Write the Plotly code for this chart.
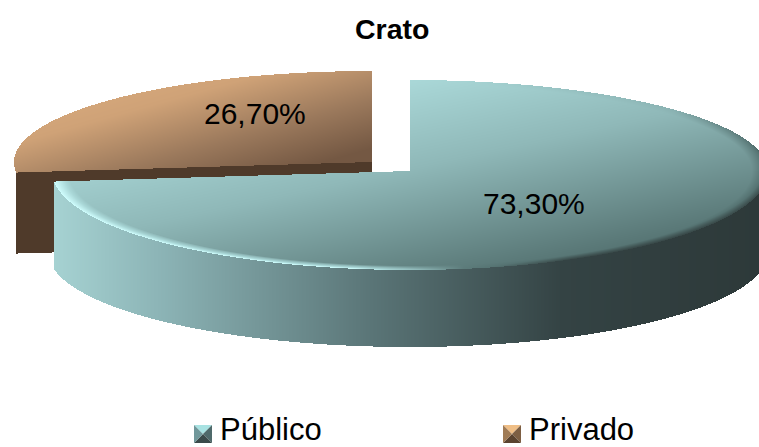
import numpy as np
import plotly.graph_objects as go

title = "Crato"
categories = ["Público", "Privado"]
values = [73.30, 26.70]
labels = ["73,30%", "26,70%"]

W, H = 759, 447
xs = np.arange(W) + 0.5
ys = np.arange(H) + 0.5
X, Y = np.meshgrid(xs, ys)
end_angle = values[0] / sum(values) * 2 * np.pi


def wedge(cx, cy, rx, ry_top, ry_bot, a0, a1):
    u = (X - cx) / rx
    v = np.where(Y < cy, (Y - cy) / ry_top, (Y - cy) / ry_bot)
    r = np.hypot(u, v)
    ang = np.mod(np.arctan2(u, -v), 2 * np.pi)
    return u, v, r, (r <= 1) & (ang >= a0) & (ang <= a1)


# Privado: top face
u, v, r, m = wedge(372, 162, 358, 91, 99, end_angle, 2 * np.pi)
t = np.clip((X - 15) / 357 * 0.62 + (Y - 71) / 100 * 0.62 - 0.1, 0, 1)
z_pri = np.where(m, t, np.nan)

# Privado: cut face (only the part that is seen above/left of Público)
a = end_angle
ex = 372 + 358 * np.sin(a)
ey = 162 - 99 * np.cos(a)
edge_y = 162 + (X - 372) / (ex - 372) * (ey - 162)
m_cut = (X >= ex) & (X <= 372) & (Y >= edge_y) & (Y <= edge_y + 81)
z_cut = np.where(m_cut, 0.5, np.nan)

# Público: outer side
cx, cy = 410, 171
rx_b = np.where(X < cx, 362.0, 358.0)
ub = (X - cx) / rx_b
s = np.sqrt(np.clip(1 - ub ** 2, 0, 1))
bottom = 252 + 95 * s
ex2 = cx + 358 * np.sin(a)
ey2 = cy - 99 * np.cos(a)
side_top = np.where(X < cx, cy + (X - cx) / (ex2 - cx) * (ey2 - cy), cy)
m_side = (X >= ex2) & (Y >= side_top) & (Y <= bottom) & (np.abs(ub) <= 1)
z_side = np.where(m_side, (X - ex2) / (W - ex2), np.nan)

# Público: top face
u, v, r, m = wedge(cx, cy, 358, 91, 99, 0, end_angle)
t = 0.30 * u + 0.75 * (Y - 80) / 190
rim = np.clip((r - 0.955) / 0.045, 0, 1)
front_left = np.clip((0.15 - u) / 0.3, 0, 1) * (v > 0)
right = np.clip((u - 0.15) / 0.3, 0, 1) * np.where(v > 0, 0.8, np.clip(0.8 * (u - 0.7) / 0.3, 0.1, 0.8))
t = t * (1 - rim * front_left) + (-0.3) * rim * front_left
t = t * (1 - rim * right) + 1.0 * rim * right
z_pub = np.where(m, t, np.nan)

teal_top = [[0, "#CFFDFD"], [0.23, "#AAD8D8"], [0.5, "#8FB8B8"], [0.88, "#567473"], [1, "#2F3B3B"]]
teal_side = [[0, "#A6D2D2"], [0.15, "#8CB4B6"], [0.45, "#5A7577"], [0.72, "#344344"], [1, "#2D3939"]]
brown_top = [[0, "#DBAD80"], [0.35, "#CFA277"], [0.7, "#9B795C"], [1, "#745843"]]
brown_cut = [[0, "#4F3A2A"], [1, "#4F3A2A"]]

fig = go.Figure()


def layer(z, scale, zmin, zmax):
    fig.add_trace(go.Heatmap(x=xs, y=ys, z=z, colorscale=scale, zmin=zmin, zmax=zmax,
                             showscale=False, hoverinfo="skip", zsmooth=False))


layer(z_pri, brown_top, 0, 1)
layer(z_cut, brown_cut, 0, 1)
layer(z_side, teal_side, 0, 1)
layer(z_pub, teal_top, -0.3, 1)


def swatch(x0, y0, size, name, cols):
    c = (x0 + size / 2, y0 + size / 2)
    corners = [(x0, y0), (x0 + size, y0), (x0 + size, y0 + size), (x0, y0 + size)]
    for i, col in enumerate(cols):
        p, q = corners[i], corners[(i + 1) % 4]
        fig.add_trace(go.Scatter(x=[p[0], q[0], c[0], p[0]], y=[p[1], q[1], c[1], p[1]],
                                 mode="lines", fill="toself", fillcolor=col,
                                 line=dict(width=0, color=col), name=name,
                                 showlegend=False, hoverinfo="skip"))


swatch(194, 425, 18, categories[0], ["#A8E2E2", "#4F6A6B", "#3A4A4A", "#70979A"])
swatch(503, 425, 18, categories[1], ["#EFBE86", "#7D5F43", "#5A432F", "#A07B55"])

FONT = "Liberation Sans, Arial, sans-serif"
ann = [
    dict(x=533.5, y=203, text=labels[0], size=30),
    dict(x=254.5, y=113, text=labels[1], size=30),
    dict(x=392, y=29, text="<b>" + title + "</b>", size=28.5),
    dict(x=270.5, y=429, text=categories[0], size=31),
    dict(x=581, y=429, text=categories[1], size=31),
]
annotations = [dict(x=a_["x"], y=a_["y"], xref="x", yref="y", text=a_["text"], showarrow=False,
                    font=dict(family=FONT, size=a_["size"], color="#000000"),
                    xanchor="center", yanchor="middle") for a_ in ann]

fig.update_layout(
    width=W, height=H, margin=dict(l=0, r=0, t=0, b=0),
    paper_bgcolor="white", plot_bgcolor="white", showlegend=False,
    xaxis=dict(range=[0, W], visible=False, fixedrange=True),
    yaxis=dict(range=[H, 0], visible=False, fixedrange=True),
    annotations=annotations,
)
fig.write_html("out.html", config=dict(displayModeBar=False),
               post_script="document.body.style.margin='0';document.body.style.overflow='hidden';")
